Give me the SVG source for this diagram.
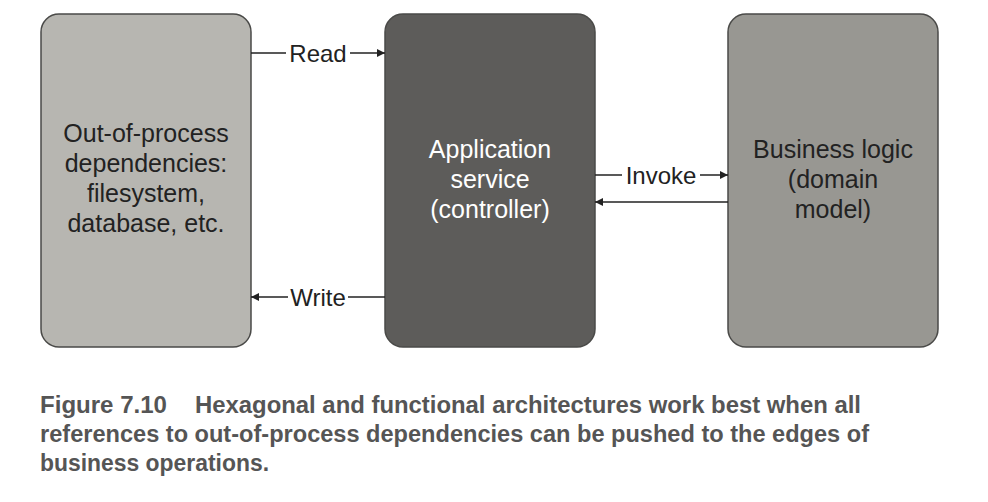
<svg xmlns="http://www.w3.org/2000/svg" width="988" height="502" viewBox="0 0 988 502">
<defs>
<style>
.node{stroke:#4a4a48;stroke-width:1.5}
.lbl{font-family:"Liberation Sans",Arial,sans-serif;font-size:24px;text-anchor:middle;fill:#222}
.ntxt{font-family:"Liberation Sans",Arial,sans-serif;font-size:25px;text-anchor:middle}
.edge{stroke:#222;stroke-width:1.5;fill:none}
.cap{font-family:"Liberation Sans",Arial,sans-serif;font-size:23px;font-weight:bold;fill:#555}
</style>
<marker id="ah" viewBox="0 0 10 10" refX="10" refY="5" markerWidth="8" markerHeight="8" markerUnits="userSpaceOnUse" orient="auto">
<path d="M0,0 L10,5 L0,10 z" fill="#222"/>
</marker>
</defs>
<rect width="988" height="502" fill="#fff"/>
<g id="node-deps">
<rect class="node" x="41" y="14" width="210" height="333" rx="18" fill="#b7b6b1"/>
<text class="ntxt" fill="#222"><tspan x="146" y="142">Out-of-process</tspan><tspan x="146" y="172">dependencies:</tspan><tspan x="146" y="202">filesystem,</tspan><tspan x="146" y="232">database, etc.</tspan></text>
</g>
<g id="node-app">
<rect class="node" x="385" y="14" width="210" height="333" rx="18" fill="#5d5c5a"/>
<text class="ntxt" fill="#fff"><tspan x="490" y="158">Application</tspan><tspan x="490" y="188">service</tspan><tspan x="490" y="218">(controller)</tspan></text>
</g>
<g id="node-logic">
<rect class="node" x="728" y="14" width="210" height="333" rx="18" fill="#989792"/>
<text class="ntxt" fill="#222"><tspan x="833" y="158">Business logic</tspan><tspan x="833" y="188">(domain</tspan><tspan x="833" y="218">model)</tspan></text>
</g>
<g id="connectors">
<line class="edge" x1="251" y1="53" x2="286" y2="53"/>
<line class="edge" x1="350" y1="53" x2="385" y2="53" marker-end="url(#ah)"/>
<text class="lbl" x="318" y="62">Read</text>
<line class="edge" x1="288" y1="297" x2="251" y2="297" marker-end="url(#ah)"/>
<line class="edge" x1="385" y1="297" x2="348" y2="297"/>
<text class="lbl" x="318" y="306">Write</text>
<line class="edge" x1="595" y1="175" x2="622" y2="175"/>
<line class="edge" x1="700" y1="175" x2="728" y2="175" marker-end="url(#ah)"/>
<text class="lbl" x="661" y="184">Invoke</text>
<line class="edge" x1="728" y1="202" x2="595" y2="202" marker-end="url(#ah)"/>
</g>
<g id="caption">
<text class="cap" x="40" y="413" textLength="127" lengthAdjust="spacingAndGlyphs">Figure 7.10</text>
<text class="cap" x="195" y="413" textLength="666" lengthAdjust="spacingAndGlyphs">Hexagonal and functional architectures work best when all</text>
<text class="cap" x="40" y="442" textLength="829" lengthAdjust="spacingAndGlyphs">references to out-of-process dependencies can be pushed to the edges of</text>
<text class="cap" x="40" y="471" textLength="229" lengthAdjust="spacingAndGlyphs">business operations.</text>
</g>
</svg>
